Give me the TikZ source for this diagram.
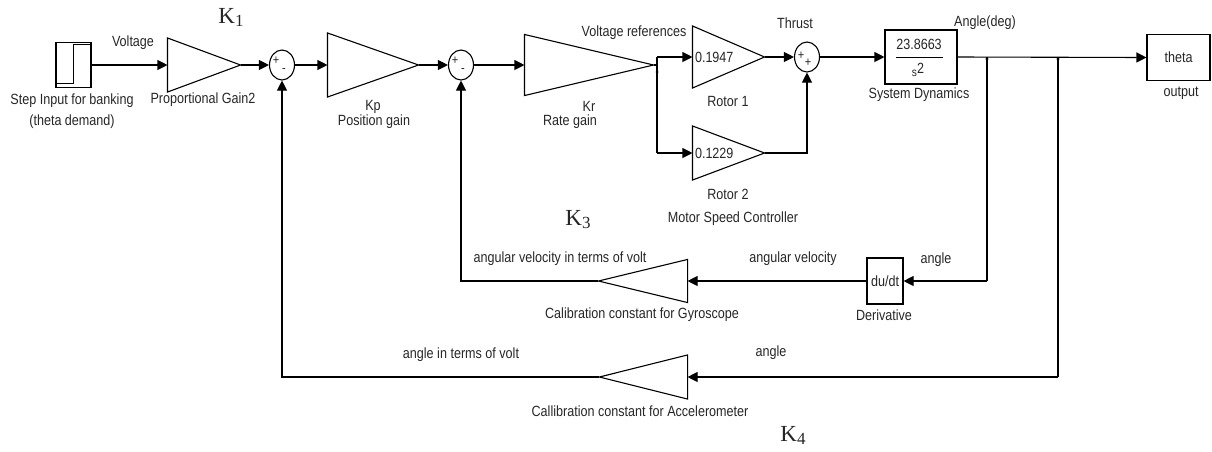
\documentclass[tikz,border=0pt]{standalone}
\usepackage{fontspec}
\setmainfont[FakeStretch=0.85]{Liberation Sans}
\newfontfamily\kfont{Liberation Serif}
\usetikzlibrary{arrows.meta,shapes.geometric}
\begin{document}
\begin{tikzpicture}[x=1pt,y=-1pt, line width=1.1pt,
  every node/.style={font=\fontsize{14.8}{17}\selectfont, text=black!85, inner sep=0pt},
  blk/.style={draw, rectangle, inner sep=0pt},
  gainr/.style={rectangle, inner sep=0pt},
  sumj/.style={draw, ellipse, minimum width=25pt, minimum height=30pt, inner sep=0pt},
  sig/.style={-{Triangle[length=10pt,width=10pt]}},
  sgn/.style={font=\fontsize{13}{13}\selectfont},
  klbl/.style={font=\kfont\fontsize{23}{23}\selectfont}
]
\useasboundingbox (0,0) rectangle (1212,451);
% blocks
\node[blk, minimum width=35pt, minimum height=45pt] (step) at (73.5,65) {};
\node[gainr, minimum width=72pt, minimum height=53pt] (g1) at (204,65) {};
\node[sumj] (s1) at (282,65) {};
\node[gainr, minimum width=90pt, minimum height=63pt] (kp) at (373,65) {};
\node[sumj] (s2) at (461,65) {};
\node[gainr, minimum width=128pt, minimum height=60pt] (kr) at (589,65) {};
\node[gainr, minimum width=71pt, minimum height=61pt] (r1) at (728.5,57) {};
\node[gainr, minimum width=71pt, minimum height=53pt] (r2) at (728.5,153) {};
\node[sumj] (s3) at (807,57) {};
\node[blk, minimum width=72pt, minimum height=54pt] (sys) at (921,57) {};
\node[blk, minimum width=63pt, minimum height=46pt] (th) at (1178.5,57.5) {theta};
\node[blk, minimum width=36pt, minimum height=46pt] (du) at (885,281) {du/dt};
\node[gainr, minimum width=88pt, minimum height=42pt] (gy) at (643,281) {};
\node[gainr, minimum width=87pt, minimum height=43pt] (ac) at (643.5,377) {};
% triangles
\foreach \n in {g1,kp,kr,r1,r2} \draw (\n.north west) -- (\n.east) -- (\n.south west) -- cycle;
\foreach \n in {gy,ac} \draw (\n.north east) -- (\n.west) -- (\n.south east) -- cycle;
% step waveform
\draw[line width=1pt] (56,83) -- (73,83) -- (73,44) -- (90,44);
% transfer function
\node (num) at (919,44) {23.8663};
\draw[line width=0.8pt] (896,57) -- (943,57);
\node (den) at (918,70) {{\fontsize{12}{12}\selectfont s}\raisebox{3pt}{2}};
% rotor gains
\node[anchor=west] (r1v) at ([xshift=2pt]r1.west) {0.1947};
\node[anchor=west] (r2v) at ([xshift=2pt]r2.west) {0.1229};
% junction coordinates
\coordinate (ja) at (657,65);
\coordinate (jt) at (657,57);
\coordinate (jb) at (657,153);
\coordinate (b1) at (987,57);
\coordinate (b1d) at (987,281);
\coordinate (b2) at (1058,57);
\coordinate (b2d) at (1058,377);
% connectors
\draw[sig] (step.east) -- (g1.west);
\draw[sig] (g1.east) -- (s1.west);
\draw[sig] (s1.east) -- (kp.west);
\draw[sig] (kp.east) -- (s2.west);
\draw[sig] (s2.east) -- (kr.west);
\draw (kr.east) -- (ja);
\draw (jt) -- (jb);
\draw[sig] (jt) -- (r1.west);
\draw[sig] (jb) -- (r2.west);
\draw[sig] (r1.east) -- (s3.west);
\draw[sig] (r2.east) -| (s3.south);
\draw[sig] (s3.east) -- (sys.west);
\draw[sig] (sys.east) -- (th.west);
\draw (b1) -- (b1d);
\draw[sig] (b1d) -- (du.east);
\draw[sig] (du.west) -- (gy.east);
\draw[sig] (gy.west) -| (s2.south);
\draw (b2) -- (b2d);
\draw[sig] (b2d) -- (ac.east);
\draw[sig] (ac.west) -| (s1.south);
% junction dots
\fill (657,72) circle (1.5pt);
\fill (987,59) circle (1.6pt);
\fill (1058,59) circle (1.6pt);
% signs
\node[sgn] at (276,61) {+};
\node[sgn] at (284,71) {-};
\node[sgn] at (455,61) {+};
\node[sgn] at (463,71) {-};
\node[sgn] at (801,56) {+};
\node[sgn] at (808,63) {+};
% labels
\node at (133,43) {Voltage};
\node at (72,101) {Step Input for banking};
\node at (72,122) {(theta demand)};
\node at (203,100) {Proportional Gain2};
\node at (373,107) {Kp};
\node at (374,122) {Position gain};
\node at (589,106) {Kr};
\node at (570,122) {Rate gain};
\node at (634,33) {Voltage references};
\node at (795,23) {Thrust};
\node at (728,101) {Rotor 1};
\node at (728,194) {Rotor 2};
\node at (733,219) {Motor Speed Controller};
\node at (919,95) {System Dynamics};
\node at (985,23) {Angle(deg)};
\node at (1181,93) {output};
\node at (560,259) {angular velocity in terms of volt};
\node at (793,259) {angular velocity};
\node at (936,260) {angle};
\node at (642,315) {Calibration constant for Gyroscope};
\node at (884,315) {Derivative};
\node at (461,355) {angle in terms of volt};
\node at (771,353) {angle};
\node at (640,411) {Callibration constant for Accelerometer};
% K labels
\node[klbl] at (231,17) {K\raisebox{-3pt}{\fontsize{17}{17}\selectfont 1}};
\node[klbl] at (578,220) {K\raisebox{-3pt}{\fontsize{17}{17}\selectfont 3}};
\node[klbl] at (793,435) {K\raisebox{-3pt}{\fontsize{17}{17}\selectfont 4}};
\end{tikzpicture}
\end{document}
